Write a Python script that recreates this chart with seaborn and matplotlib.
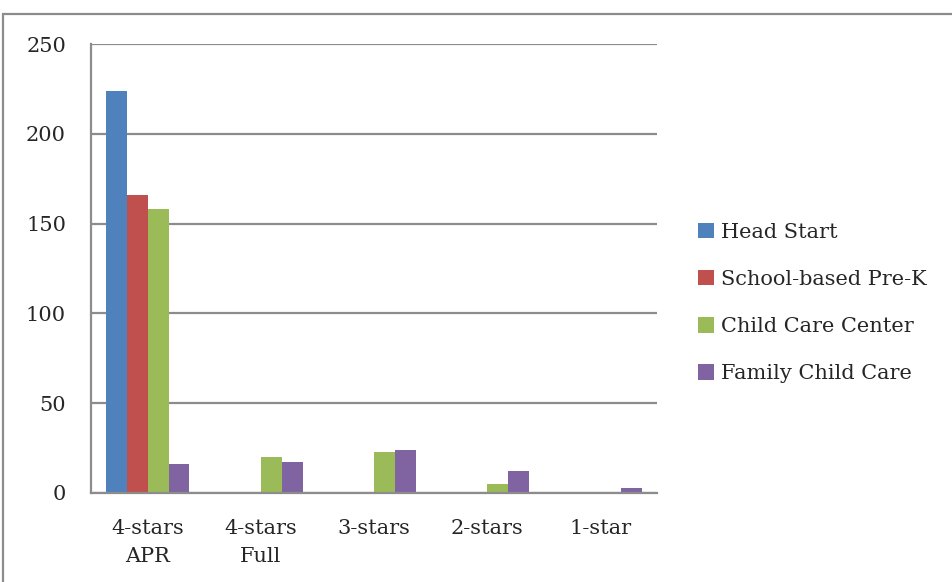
import pandas as pd
import seaborn as sns
import matplotlib.pyplot as plt
from matplotlib.patches import Rectangle

# values
categories = ['4-stars\nAPR', '4-stars\nFull', '3-stars', '2-stars', '1-star']
head_start = [224, 0, 0, 0, 0]
school_prek = [166, 0, 0, 0, 0]
child_care_center = [158, 20, 23, 5, 0]
family_child_care = [16, 17, 24, 12, 3]

series = ['Head Start', 'School-based Pre-K', 'Child Care Center', 'Family Child Care']
colors = ['#4F81BD', '#C0504D', '#9BBB59', '#8064A2']

# long format table for seaborn
df = pd.DataFrame({
    'category': categories * 4,
    'program': [s for s in series for _ in categories],
    'count': head_start + school_prek + child_care_center + family_child_care,
})

sns.set_style('white')
plt.rcParams['font.family'] = ['DejaVu Serif']

fig = plt.figure(figsize=(9.53, 5.82), dpi=100)
ax = fig.add_axes([91 / 953, 89 / 582, 566 / 953, 449 / 582])

sns.barplot(data=df, x='category', y='count', hue='program', order=categories,
            hue_order=series, palette=colors, saturation=1, width=0.74, linewidth=0, ax=ax)

grey = '#8C8C8C'
ax.set_ylim(0, 250)
ax.set_yticks(range(0, 251, 50))
ax.set_xlim(-0.5, 4.5)
ax.yaxis.grid(True, color=grey, linewidth=1.6)
ax.set_axisbelow(True)
for side in ['top', 'right']:
    ax.spines[side].set_visible(False)
for side in ['left', 'bottom']:
    ax.spines[side].set_color(grey)
    ax.spines[side].set_linewidth(1.6)

# category boundary ticks like Excel
ax.set_xticks([i - 0.5 for i in range(6)], minor=True)
ax.tick_params(axis='x', which='minor', length=5, width=1.6, color=grey, direction='out')
ax.tick_params(axis='x', which='major', length=0, pad=19, labelsize=15)
ax.tick_params(axis='y', length=5, width=1.6, color=grey, direction='out', pad=13, labelsize=15)
for lbl in ax.get_xticklabels():
    lbl.set_linespacing(1.55)

ax.set_xlabel('')
ax.set_ylabel('')

ax.legend(loc='center left', bbox_to_anchor=(1.058, 0.423), frameon=False, fontsize=15,
          handlelength=0.75, handleheight=0.75, handletextpad=0.35, labelspacing=1.35,
          borderaxespad=0)

# outer chart border
fig.patches.append(Rectangle((3 / 953, -0.1), 1.2, 1.1 - 14 / 582, transform=fig.transFigure,
                             fill=False, edgecolor=grey, linewidth=1.6))

plt.savefig('out.png', dpi=100)
